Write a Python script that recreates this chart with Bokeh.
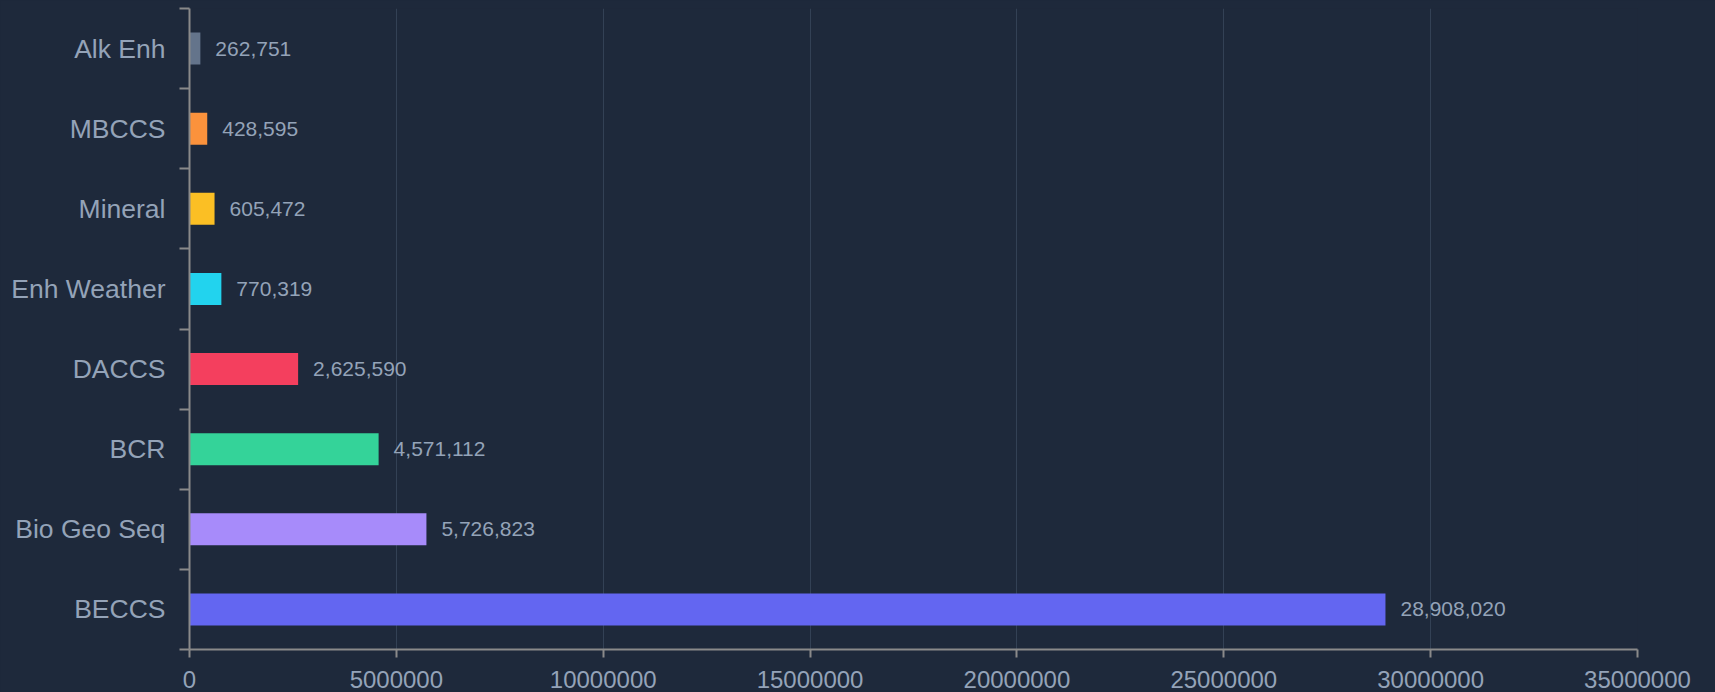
import re
from bokeh.plotting import figure
from bokeh.models import ColumnDataSource, FixedTicker, BasicTickFormatter, Range1d
from bokeh.core.properties import value
from bokeh.embed import file_html
from bokeh.resources import INLINE

categories = ["BECCS", "Bio Geo Seq", "BCR", "DACCS", "Enh Weather", "Mineral", "MBCCS", "Alk Enh"]
values = [28908020, 5726823, 4571112, 2625590, 770319, 605472, 428595, 262751]
colors = ["#6366f1", "#a78bfa", "#34d399", "#f43f5e", "#22d3ee", "#fbbf24", "#fb923c", "#64748b"]
x_ticks = [0, 5000000, 10000000, 15000000, 20000000, 25000000, 30000000, 35000000]

BG = "#1e293b"
TXT = "#94a3b8"
AX = "#8a8a8a"
GRID = "#334155"
FONT = "Liberation Sans"

n = len(categories)
pos = [i + 0.5 for i in range(n)]
src = ColumnDataSource(dict(
    y=pos, v=values, c=colors,
    lab=[f"{v:,}" for v in values],
))

p = figure(width=1715, height=692, output_backend="svg", toolbar_location=None,
           x_range=Range1d(0, x_ticks[-1]), y_range=Range1d(0, n),
           min_border_left=189, min_border_right=78, min_border_top=8, min_border_bottom=43)
p.background_fill_color = BG
p.border_fill_color = BG
p.outline_line_color = None
p.styles = {"background-color": BG}

p.hbar(y="y", left=0, right="v", height=0.4, fill_color="c", line_color=None, source=src)
p.text(x="v", y="y", text="lab", source=src, x_offset=15, text_baseline="middle",
       text_align="left", text_color=TXT, text_font=value(FONT), text_font_size="21px")

# x axis
p.xaxis.ticker = FixedTicker(ticks=x_ticks)
p.xaxis.formatter = BasicTickFormatter(use_scientific=False)
p.xaxis.axis_line_color = AX
p.xaxis.axis_line_width = 2
p.xaxis.major_tick_line_color = AX
p.xaxis.major_tick_line_width = 2
p.xaxis.major_tick_in = 0
p.xaxis.major_tick_out = 8
p.xaxis.minor_tick_line_color = None
p.xaxis.major_label_text_color = TXT
p.xaxis.major_label_text_font = FONT
p.xaxis.major_label_text_font_size = "24px"
p.xaxis.major_label_standoff = 13

# y axis: labels at band centres, ticks at band boundaries
p.yaxis.ticker = FixedTicker(ticks=pos, minor_ticks=list(range(n + 1)))
p.yaxis.major_label_overrides = {pp: c for pp, c in zip(pos, categories)}
p.yaxis.axis_line_color = AX
p.yaxis.axis_line_width = 2
p.yaxis.major_tick_line_color = None
p.yaxis.minor_tick_line_color = AX
p.yaxis.minor_tick_line_width = 2
p.yaxis.minor_tick_in = 0
p.yaxis.minor_tick_out = 10
p.yaxis.major_tick_out = 10
p.yaxis.major_label_text_color = TXT
p.yaxis.major_label_text_font = FONT
p.yaxis.major_label_text_font_size = "26.5px"
p.yaxis.major_label_standoff = 14

p.xgrid.grid_line_color = GRID
p.xgrid.grid_line_width = 1
p.ygrid.grid_line_color = None

html = file_html(p, INLINE)
html = re.sub(r"<body[^>]*>", '<body style="margin:0;background:%s">' % BG, html, count=1)
open("out.html", "w").write(html)
